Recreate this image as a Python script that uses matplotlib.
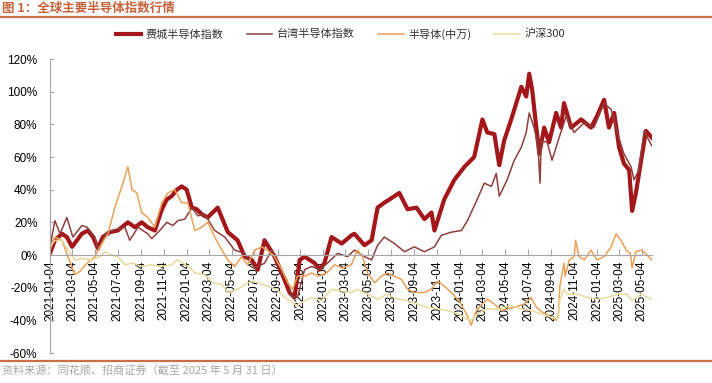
import matplotlib
matplotlib.use("Agg")
import matplotlib.pyplot as plt
from matplotlib.lines import Line2D
import pandas as pd

plt.rcParams['font.family'] = ['Liberation Sans', 'Noto Sans CJK SC', 'DejaVu Sans']

sox_dates = ["2021-01-04","2021-01-17","2021-02-05","2021-02-18","2021-03-04","2021-03-17","2021-03-30",
    "2021-04-15","2021-04-29","2021-05-12","2021-05-25","2021-06-13","2021-07-04","2021-07-31","2021-08-19",
    "2021-09-06","2021-09-22","2021-10-11","2021-10-30","2021-11-12","2021-11-25","2021-12-09","2021-12-22",
    "2022-01-04","2022-01-18","2022-01-31","2022-02-13","2022-03-01","2022-03-28","2022-04-24","2022-05-20",
    "2022-06-08","2022-06-27","2022-07-13","2022-07-31","2022-08-27","2022-09-15","2022-10-06","2022-10-19",
    "2022-11-02","2022-11-15","2022-12-12","2022-12-25","2023-01-07","2023-01-26","2023-02-22","2023-03-20",
    "2023-03-28","2023-04-24","2023-05-13","2023-05-29","2023-06-16","2023-07-13","2023-07-26","2023-08-17",
    "2023-09-10","2023-10-01","2023-10-20","2023-10-28","2023-11-23","2023-12-20","2024-01-16","2024-02-11",
    "2024-03-04","2024-03-17","2024-04-05","2024-04-18","2024-05-01","2024-05-20","2024-06-16","2024-06-29",
    "2024-07-07","2024-07-15","2024-07-26","2024-08-03","2024-08-16","2024-08-29","2024-09-17","2024-09-30",
    "2024-10-08","2024-10-27","2024-11-23","2024-12-19","2025-01-04","2025-01-23","2025-02-05","2025-02-19",
    "2025-03-04","2025-03-17","2025-03-31","2025-04-08","2025-04-18","2025-05-02","2025-05-15","2025-05-30"]
sox_values = [1,9,13,11,5,9,13,15,11,4,11,14,15,20,17,20,17,15,28,34,36,40,42,40,29,28,25,23,29,14,9,
    -1,-3,-9,9,-1,-11,-23,-26,-3,-1,-5,-9,-5,11,7,12,13,6,9,29,32,36,38,28,29,22,26,15,34,46,54,60,
    83,75,74,55,70,83,103,97,111,101,78,62,78,69,87,78,93,78,83,78,85,95,78,87,66,56,52,27,38,58,76,72]

tw_dates = ["2021-01-04","2021-01-17","2021-01-31","2021-02-18","2021-03-06","2021-03-30","2021-04-13",
    "2021-05-04","2021-05-12","2021-06-05","2021-07-04","2021-07-23","2021-08-05","2021-08-27","2021-09-22",
    "2021-10-03","2021-10-24","2021-11-12","2021-11-28","2021-12-11","2021-12-30","2022-01-18","2022-02-03",
    "2022-02-21","2022-03-20","2022-04-16","2022-05-12","2022-06-08","2022-07-05","2022-07-31","2022-08-19",
    "2022-09-04","2022-09-28","2022-10-14","2022-10-27","2022-11-15","2022-12-04","2022-12-25","2023-01-15",
    "2023-02-11","2023-03-10","2023-03-28","2023-04-24","2023-05-13","2023-05-29","2023-06-16","2023-07-13",
    "2023-08-09","2023-09-04","2023-10-01","2023-10-28","2023-11-15","2023-12-12","2024-01-08","2024-01-24",
    "2024-02-19","2024-03-09","2024-03-28","2024-04-10","2024-04-18","2024-05-09","2024-05-28","2024-06-16",
    "2024-06-29","2024-07-07","2024-07-20","2024-07-30","2024-08-05","2024-08-08","2024-08-24","2024-09-06",
    "2024-09-25","2024-10-14","2024-11-04","2024-12-01","2024-12-27","2025-01-23","2025-02-11","2025-02-27",
    "2025-03-17","2025-04-05","2025-04-13","2025-04-26","2025-05-10","2025-05-30"]
tw_values = [5,21,13,23,11,18,17,11,3,14,16,17,9,17,13,10,15,20,18,21,22,29,24,25,15,11,3,1,-8,-5,3,
    -5,-15,-26,-26,-9,-7,-9,-5,1,-1,3,-1,-3,6,11,7,2,5,2,5,12,14,15,21,34,44,42,50,36,46,58,66,75,87,78,
    68,44,70,69,58,72,85,75,81,78,93,89,75,62,54,46,52,76,67]

semi_dates = ["2021-01-04","2021-01-17","2021-02-05","2021-02-21","2021-03-12","2021-03-25","2021-04-13",
    "2021-05-04","2021-05-17","2021-06-08","2021-06-26","2021-07-15","2021-07-31","2021-08-11","2021-08-24",
    "2021-09-06","2021-09-22","2021-10-11","2021-10-30","2021-11-15","2021-12-03","2021-12-22","2022-01-07",
    "2022-01-26","2022-02-13","2022-03-01","2022-03-20","2022-04-08","2022-04-24","2022-05-12","2022-05-31",
    "2022-06-16","2022-07-05","2022-07-23","2022-08-08","2022-08-27","2022-09-15","2022-10-01","2022-10-14",
    "2022-10-27","2022-11-15","2022-12-04","2022-12-20","2023-01-13","2023-02-03","2023-02-24","2023-03-20",
    "2023-04-05","2023-04-19","2023-05-02","2023-05-21","2023-06-08","2023-06-24","2023-07-13","2023-08-01",
    "2023-08-17","2023-09-04","2023-10-01","2023-10-20","2023-11-05","2023-11-23","2023-12-12","2024-01-02",
    "2024-01-21","2024-02-03","2024-02-17","2024-03-04","2024-03-17","2024-04-05","2024-04-23","2024-05-28",
    "2024-06-24","2024-07-12","2024-07-26","2024-08-11","2024-09-04","2024-09-17","2024-09-23","2024-09-27",
    "2024-10-08","2024-10-11","2024-10-22","2024-11-04","2024-11-08","2024-11-17","2024-12-01","2024-12-19",
    "2025-01-04","2025-01-23","2025-02-11","2025-02-24","2025-03-09","2025-03-23","2025-04-03","2025-04-08",
    "2025-04-18","2025-05-04","2025-05-18","2025-05-30"]
semi_values = [3,11,9,-1,-12,-10,-5,-1,5,13,29,42,54,40,38,26,23,17,32,38,40,32,32,15,17,20,11,3,-3,-7,-1,
    -6,3,5,3,-1,-9,-17,-21,-13,-13,-11,-13,-11,-6,-8,-6,3,-1,-11,-17,-13,-11,-13,-15,-21,-23,-23,-21,-16,
    -19,-23,-28,-36,-43,-34,-30,-27,-30,-34,-32,-30,-26,-32,-35,-38,-40,-36,-19,-5,-13,-3,-1,9,-1,-3,3,
    -3,-1,5,13,9,3,1,-8,2,3,0,-3]

hs_dates = ["2021-01-04","2021-01-17","2021-02-05","2021-02-21","2021-03-12","2021-03-30","2021-04-26",
    "2021-05-17","2021-05-31","2021-06-18","2021-07-04","2021-07-23","2021-08-11","2021-09-06","2021-10-03",
    "2021-10-30","2021-11-25","2021-12-11","2022-01-07","2022-01-26","2022-02-21","2022-03-15","2022-04-08",
    "2022-04-24","2022-05-20","2022-06-16","2022-07-05","2022-08-06","2022-09-01","2022-09-23","2022-10-14",
    "2022-10-25","2022-11-15","2022-12-06","2022-12-30","2023-01-26","2023-02-22","2023-03-20","2023-04-05",
    "2023-05-02","2023-05-29","2023-06-24","2023-07-21","2023-08-17","2023-09-12","2023-10-09","2023-11-05",
    "2023-12-01","2023-12-28","2024-01-21","2024-02-03","2024-02-19","2024-03-17","2024-04-13","2024-05-20",
    "2024-06-16","2024-07-12","2024-08-08","2024-09-04","2024-09-17","2024-09-23","2024-09-27","2024-10-08",
    "2024-10-16","2024-11-12","2024-12-09","2025-01-04","2025-01-31","2025-02-27","2025-03-25","2025-04-08",
    "2025-05-02","2025-05-30"]
hs_values = [5,9,9,3,-3,-2,-3,-1,2,0,-1,-6,-5,-7,-6,-7,-6,-3,-7,-11,-12,-17,-18,-23,-21,-17,-16,-19,
    -21,-26,-29,-31,-28,-26,-28,-21,-22,-23,-21,-24,-27,-24,-27,-28,-30,-32,-33,-34,-36,-39,-40,-36,-33,
    -33,-31,-33,-34,-36,-38,-39,-38,-27,-21,-24,-24,-26,-27,-26,-24,-24,-28,-24,-27]

series_names = ["费城半导体指数", "台湾半导体指数", "半导体(中万)", "沪深300"]
tick_start = "2021-01-04"
tick_end = "2025-05-04"
x_end = "2025-05-31"

colors = ["#A3171A", "#8E3F3C", "#E9A157", "#E8DA9C"]
widths = [3.0, 1.1, 1.1, 1.1]

fig = plt.figure(figsize=(7.12, 3.83), dpi=100)
ax = fig.add_axes([50/712, 1-353/383, (652-50)/712, (353-59)/383])

data = [(sox_dates, sox_values), (tw_dates, tw_values), (semi_dates, semi_values), (hs_dates, hs_values)]
for (d, v), c, w in zip(data, colors, widths):
    ax.plot(pd.to_datetime(d), v, color=c, lw=w, solid_joinstyle='round')

ax.set_ylim(-60, 120)
ax.set_yticks(range(-60, 121, 20))
ax.set_yticklabels([f"{t}%" for t in range(-60, 121, 20)])
ax.set_xlim(pd.Timestamp(tick_start), pd.Timestamp(x_end))
ticks = pd.date_range(tick_start, tick_end, freq=pd.DateOffset(months=2))
ax.set_xticks(ticks)
ax.set_xticklabels([t.strftime("%Y-%m-%d") for t in ticks])

for s in ['top', 'right']:
    ax.spines[s].set_visible(False)
ax.spines['bottom'].set_position(('data', 0))
ax.spines['bottom'].set_color('#A6A6A6')
ax.spines['left'].set_color('#A6A6A6')
ax.tick_params(axis='x', direction='in', length=4, color='#A6A6A6', pad=4, labelsize=8.5,
               labelcolor='black', labelrotation=90)
ax.tick_params(axis='y', direction='in', length=3, color='#A6A6A6', pad=9, labelsize=8.5, labelcolor='black')

handles = [Line2D([], [], color=c, lw=w) for c, w in zip(colors, widths)]
fig.legend(handles, series_names, loc='center', bbox_to_anchor=(0.478, 1-34/383), ncol=4, frameon=False,
           prop={'family': ['Noto Sans CJK SC', 'DejaVu Sans'], 'size': 8}, handlelength=2.3,
           columnspacing=2.1, handletextpad=0.4, labelcolor='#333333')

fig.text(0.003, 1-8.5/383, "图 1：全球主要半导体指数行情", fontsize=9, fontweight='bold', color='#C4623A',
         family=['Noto Sans CJK SC', 'DejaVu Sans'], va='center', ha='left')
fig.add_artist(Line2D([0, 1], [1-16.5/383, 1-16.5/383], color='#C8704A', lw=1.6, transform=fig.transFigure))
fig.add_artist(Line2D([0, 1], [1-360.5/383, 1-360.5/383], color='#C8704A', lw=1.6, transform=fig.transFigure))
fig.text(0.003, 1-371/383, "资料来源：同花顺、招商证券（截至 2025 年 5 月 31 日）", fontsize=8, color='#A6A6A6',
         family=['Noto Sans CJK SC', 'DejaVu Sans'], va='center', ha='left')

fig.savefig("out.png", dpi=100)
